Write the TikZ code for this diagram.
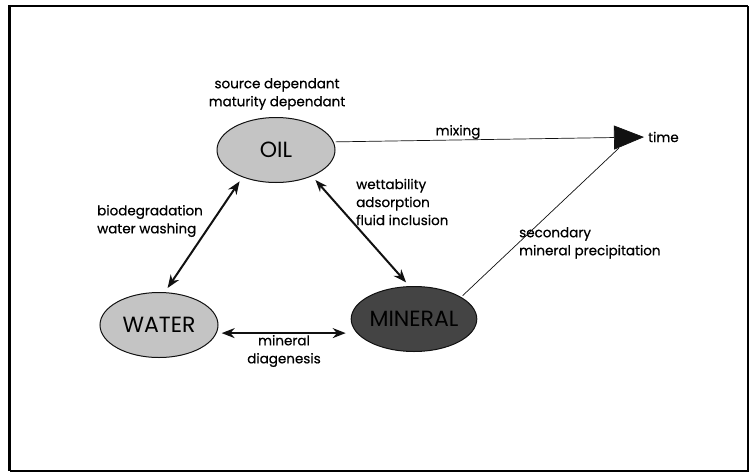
\documentclass[tikz,border=0pt]{standalone}
\usepackage{fontspec}
\setmainfont{Poppins}
\newfontfamily\notefont{Poppins}[FakeBold=0.6]
\usepackage{tikz}
\usetikzlibrary{arrows.meta,positioning,shapes.geometric}
\definecolor{phaselight}{HTML}{C4C4C4}
\definecolor{phasedark}{HTML}{444444}
\definecolor{inkgray}{HTML}{111111}
\tikzset{
  phase/.style={
    ellipse,
    draw=inkgray,
    line width=1pt,
    minimum width=118pt,
    minimum height=65pt,
    inner sep=0pt,
    font=\fontsize{22}{24}\selectfont
  },
  lightphase/.style={phase, fill=phaselight},
  darkphase/.style={phase, fill=phasedark},
  note/.style={font=\notefont\fontsize{13.5}{18}\selectfont, align=left, inner sep=0pt},
  link/.style={{Stealth[length=13pt,width=10pt]}-{Stealth[length=13pt,width=10pt]},
    line width=2pt, draw=inkgray, shorten >=5pt, shorten <=5pt},
  trend/.style={line width=0.7pt, draw=inkgray}
}

\begin{document}
\begin{tikzpicture}[x=1pt,y=-1pt]
  \useasboundingbox (0,0) rectangle (750,474);
  % frame
  \draw[line width=2.5pt] (748,6) -- (9.5,6) -- (9.5,471);
  \draw[line width=1.2pt] (9.5,471) -- (748,471) -- (748,6);

  \node[lightphase] (oil) at (276,150) {OIL};
  \node[lightphase] (water) at (159,325) {WATER};
  \node[darkphase] (mineral) at (414,319) {MINERAL};

  \node[note, align=center] (source) at (277,94) {source dependant\\maturity dependant};
  \node[note, anchor=west] (bio) at (97,221) {biodegradation\\water washing};
  \node[note, anchor=west] (wet) at (356,202) {wettability\\adsorption\\fluid inclusion};
  \node[note] (mixlabel) at (458,132) {mixing};
  \node[note, anchor=west] (time) at (648,137) {time};
  \node[note, anchor=west] (second) at (519,243) {secondary\\mineral precipitation};
  \node[note, align=center] (diag) at (284,351) {mineral\\diagenesis};
  \coordinate (meet) at (619,148);

  \draw[link] (oil.219) -- (water.80);
  \draw[link, {Stealth[open,length=12pt,width=9pt]}-{Stealth[length=13pt,width=10pt]}] (oil.324) -- (mineral.98);
  \draw[link] (water.-8) -- (water.-8 -| mineral.west);
  \draw[trend, -{Triangle[length=30pt,width=24pt]}, shorten >=4pt, shorten <=2pt] (oil.8) -- (time.west);
  \draw[trend, shorten <=2pt] (mineral.25) -- (meet);
\end{tikzpicture}
\end{document}
